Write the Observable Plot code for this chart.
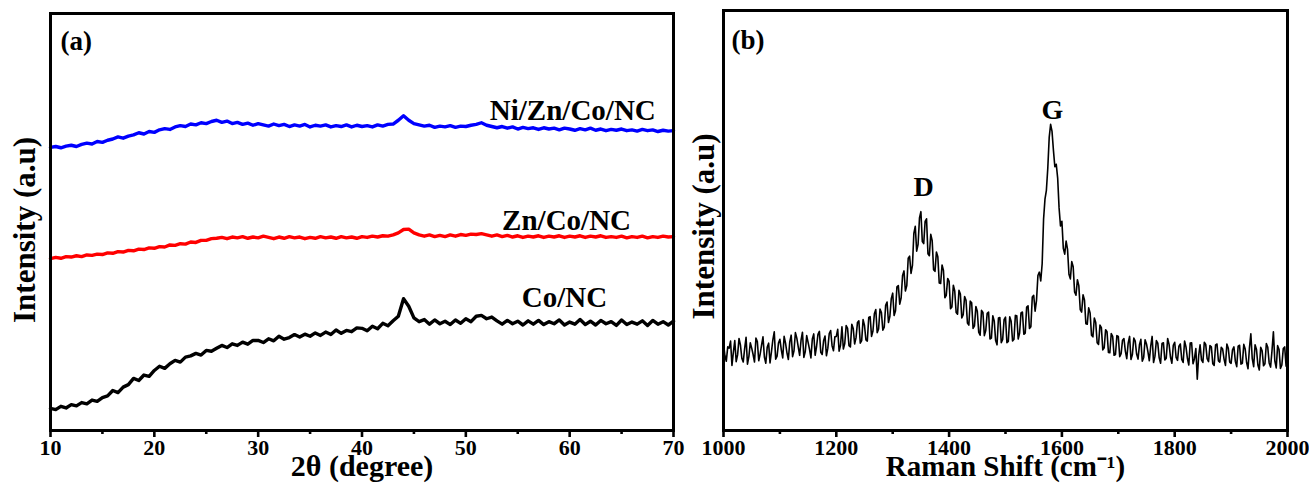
<!DOCTYPE html>
<html><head><meta charset="utf-8">
<script src="https://cdn.jsdelivr.net/npm/d3@7"></script>
<script src="https://cdn.jsdelivr.net/npm/@observablehq/plot@0.6"></script>
<style>
html,body{margin:0;padding:0;background:#fff;}
#wrap{position:relative;width:1309px;height:486px;overflow:hidden;background:#fff;}
#a{position:absolute;left:0;top:0;}
#b{position:absolute;left:685px;top:0;}
svg text{font-family:"Liberation Serif","Times New Roman",serif !important;font-weight:bold;}
</style></head><body><div id="wrap"><div id="a"></div><div id="b"></div></div>
<script>
// ---------- (a) XRD ----------
const xrdAngle = [
10,10.5,11,11.5,12,12.5,13,13.5,14,14.5,
15,15.5,16,16.5,17,17.5,18,18.5,19,19.5,
20,20.5,21,21.5,22,22.5,23,23.5,24,24.5,
25,25.5,26,26.5,27,27.5,28,28.5,29,29.5,
30,30.5,31,31.5,32,32.5,33,33.5,34,34.5,
35,35.5,36,36.5,37,37.5,38,38.5,39,39.5,
40,40.5,41,41.5,42,42.5,43,43.5,44,44.5,
45,45.5,46,46.5,47,47.5,48,48.5,49,49.5,
50,50.5,51,51.5,52,52.5,53,53.5,54,54.5,
55,55.5,56,56.5,57,57.5,58,58.5,59,59.5,
60,60.5,61,61.5,62,62.5,63,63.5,64,64.5,
65,65.5,66,66.5,67,67.5,68,68.5,69,69.5,
70];
const niZnCoNC = [
67.9,68.1,67.8,68.2,68.4,68.1,68.6,68.9,68.7,69.3,
69.1,69.6,69.9,70.4,70.1,70.6,70.9,71.4,71.1,71.7,
71.5,72.1,72.4,72.2,72.8,73.1,72.9,73.5,73.3,73.8,
73.6,74.1,74.4,73.9,74.2,73.6,73.9,73.4,73.7,73.2,
73.6,73.3,73.0,73.5,73.1,73.4,72.9,73.3,73.0,73.4,
72.8,73.2,73.0,73.3,72.8,73.1,72.9,73.3,72.8,73.2,
72.9,73.1,72.8,73.3,73.0,73.4,73.5,74.4,75.5,74.4,
73.6,73.3,73.0,73.2,72.7,73.0,72.8,73.1,72.7,73.0,
72.9,73.2,73.4,73.8,73.2,72.9,72.6,72.9,72.5,72.8,
72.3,72.7,72.4,72.6,72.2,72.6,72.3,72.5,72.1,72.5,
72.3,72.0,72.4,72.1,72.5,72.0,72.3,71.9,72.2,72.0,
72.3,71.9,72.1,71.8,72.2,71.9,72.1,71.7,72.0,71.8,
71.9];
const znCoNC = [
41.2,41.5,41.3,41.7,41.6,41.9,41.7,42.1,42.0,42.3,
42.2,42.6,42.5,42.9,42.8,43.2,43.1,43.5,43.4,43.8,
43.7,44.1,44.0,44.5,44.4,44.8,44.7,45.2,45.1,45.6,
45.6,46.0,46.1,46.3,46.0,46.4,46.2,46.5,46.1,46.4,
46.2,46.6,46.3,46.0,46.4,46.1,46.5,46.2,46.4,46.0,
46.3,46.1,46.5,46.2,46.4,46.1,46.5,46.2,46.4,46.1,
46.5,46.3,46.6,46.4,46.7,46.6,46.9,47.4,48.2,48.3,
47.4,46.9,46.6,46.9,46.5,46.8,46.5,46.9,46.6,47.0,
46.8,47.1,47.0,47.2,46.9,46.6,46.9,46.5,46.8,46.4,
46.7,46.3,46.6,46.4,46.7,46.3,46.6,46.4,46.7,46.3,
46.6,46.4,46.7,46.3,46.6,46.4,46.7,46.3,46.5,46.3,
46.6,46.2,46.5,46.3,46.6,46.2,46.5,46.3,46.6,46.4,
46.5];
const coNC = [
5.3,5.0,5.8,5.4,6.2,5.9,6.7,6.4,7.3,7.0,
7.9,8.3,9.6,9.1,10.4,11.0,12.5,12.0,13.3,13.0,
14.4,15.4,14.9,16.0,16.8,16.4,17.6,17.9,18.5,18.1,
19.2,19.0,19.7,20.4,19.9,20.8,20.4,21.2,20.7,21.6,
21.6,21.1,22.0,21.5,22.6,21.9,22.3,23.0,22.4,23.1,
22.6,23.4,22.8,23.6,23.0,24.1,23.3,24.0,23.7,24.6,
24.5,23.9,25.0,24.4,25.7,25.1,26.3,27.4,31.6,29.8,
27.0,26.1,26.6,25.5,26.5,25.6,26.2,25.4,26.5,25.7,
26.8,26.1,27.4,27.6,26.8,27.2,26.3,25.5,26.4,25.6,
26.2,25.3,26.3,25.5,26.4,25.4,26.1,25.6,26.5,25.3,
26.0,25.5,26.6,25.4,26.2,25.3,26.4,25.6,26.1,25.2,
26.5,25.4,26.0,25.5,26.3,25.2,26.4,25.5,26.1,25.3,
26.2];
const xrdSamples = ["Ni/Zn/Co/NC", "Zn/Co/NC", "Co/NC"];
const xrdColors = ["#0000ff", "#ff0000", "#000000"];
const xrdLabelX = [60.3, 59.7, 59.5];
const xrdLabelY = [76.7, 50.4, 31.9];
const xrdTicks = [10, 20, 30, 40, 50, 60, 70];
const xrdMinorTicks = [15, 25, 35, 45, 55, 65];

// ---------- (b) Raman ----------
const ramanShift = [
1000,1002.5,1005,1007.5,1010,1012.5,1015,1017.5,1020,1022.5,1025,1027.5,1030,1032.5,1035,1037.5,1040,1042.5,1045,1047.5,
1050,1052.5,1055,1057.5,1060,1062.5,1065,1067.5,1070,1072.5,1075,1077.5,1080,1082.5,1085,1087.5,1090,1092.5,1095,1097.5,
1100,1102.5,1105,1107.5,1110,1112.5,1115,1117.5,1120,1122.5,1125,1127.5,1130,1132.5,1135,1137.5,1140,1142.5,1145,1147.5,
1150,1152.5,1155,1157.5,1160,1162.5,1165,1167.5,1170,1172.5,1175,1177.5,1180,1182.5,1185,1187.5,1190,1192.5,1195,1197.5,
1200,1202.5,1205,1207.5,1210,1212.5,1215,1217.5,1220,1222.5,1225,1227.5,1230,1232.5,1235,1237.5,1240,1242.5,1245,1247.5,
1250,1252.5,1255,1257.5,1260,1262.5,1265,1267.5,1270,1272.5,1275,1277.5,1280,1282.5,1285,1287.5,1290,1292.5,1295,1297.5,
1300,1302.5,1305,1307.5,1310,1312.5,1315,1317.5,1320,1322.5,1325,1327.5,1330,1332.5,1335,1337.5,1340,1342.5,1345,1347.5,
1350,1352.5,1355,1357.5,1360,1362.5,1365,1367.5,1370,1372.5,1375,1377.5,1380,1382.5,1385,1387.5,1390,1392.5,1395,1397.5,
1400,1402.5,1405,1407.5,1410,1412.5,1415,1417.5,1420,1422.5,1425,1427.5,1430,1432.5,1435,1437.5,1440,1442.5,1445,1447.5,
1450,1452.5,1455,1457.5,1460,1462.5,1465,1467.5,1470,1472.5,1475,1477.5,1480,1482.5,1485,1487.5,1490,1492.5,1495,1497.5,
1500,1502.5,1505,1507.5,1510,1512.5,1515,1517.5,1520,1522.5,1525,1527.5,1530,1532.5,1535,1537.5,1540,1542.5,1545,1547.5,
1550,1552.5,1555,1557.5,1560,1562.5,1565,1567.5,1570,1572.5,1575,1577.5,1580,1582.5,1585,1587.5,1590,1592.5,1595,1597.5,
1600,1602.5,1605,1607.5,1610,1612.5,1615,1617.5,1620,1622.5,1625,1627.5,1630,1632.5,1635,1637.5,1640,1642.5,1645,1647.5,
1650,1652.5,1655,1657.5,1660,1662.5,1665,1667.5,1670,1672.5,1675,1677.5,1680,1682.5,1685,1687.5,1690,1692.5,1695,1697.5,
1700,1702.5,1705,1707.5,1710,1712.5,1715,1717.5,1720,1722.5,1725,1727.5,1730,1732.5,1735,1737.5,1740,1742.5,1745,1747.5,
1750,1752.5,1755,1757.5,1760,1762.5,1765,1767.5,1770,1772.5,1775,1777.5,1780,1782.5,1785,1787.5,1790,1792.5,1795,1797.5,
1800,1802.5,1805,1807.5,1810,1812.5,1815,1817.5,1820,1822.5,1825,1827.5,1830,1832.5,1835,1837.5,1840,1842.5,1845,1847.5,
1850,1852.5,1855,1857.5,1860,1862.5,1865,1867.5,1870,1872.5,1875,1877.5,1880,1882.5,1885,1887.5,1890,1892.5,1895,1897.5,
1900,1902.5,1905,1907.5,1910,1912.5,1915,1917.5,1920,1922.5,1925,1927.5,1930,1932.5,1935,1937.5,1940,1942.5,1945,1947.5,
1950,1952.5,1955,1957.5,1960,1962.5,1965,1967.5,1970,1972.5,1975,1977.5,1980,1982.5,1985,1987.5,1990,1992.5,1995,1997.5,
2000];
const ramanIntensity = [
20.7,17.8,16.5,19.9,19.6,21.3,15.5,18.6,21.4,16.4,18.0,21.9,20.4,17.2,16.3,19.5,22.2,15.8,17.6,20.9,
19.6,18.1,16.3,22.0,21.2,16.6,18.2,20.3,22.3,17.5,16.0,19.8,20.8,16.1,18.7,21.6,23.5,17.0,17.7,20.8,
21.7,19.2,17.3,22.4,20.8,18.5,16.9,21.1,22.7,17.6,19.0,23.3,22.0,19.9,17.9,21.5,23.4,17.4,18.8,22.6,
21.0,19.3,17.3,21.8,23.0,17.9,20.0,22.9,23.6,18.6,18.1,21.4,22.5,17.8,19.6,23.1,23.8,20.2,19.0,22.3,
22.4,24.1,18.9,20.3,24.7,19.4,20.7,25.0,24.3,20.2,19.9,25.3,24.3,20.6,22.1,25.7,26.1,20.8,21.4,26.4,
25.0,21.6,21.3,26.9,27.1,22.4,23.7,27.8,28.8,23.3,24.2,28.9,28.1,23.9,24.6,29.8,30.6,25.7,27.2,31.4,
32.7,27.4,28.5,34.2,34.5,30.1,31.6,36.9,38.0,33.2,34.5,41.0,41.5,37.4,39.3,46.9,48.6,42.7,44.3,50.6,
52.1,45.0,44.5,49.8,50.4,42.1,41.6,46.7,45.2,38.3,37.9,42.5,41.4,35.1,35.0,39.4,38.1,31.6,32.2,36.2,
35.5,29.0,29.4,34.6,33.2,28.1,27.7,33.4,32.5,26.8,27.6,31.9,31.0,25.6,25.1,30.8,30.4,24.3,24.9,29.5,
28.4,23.4,22.7,28.6,28.1,22.6,23.8,27.9,28.2,21.8,22.0,27.3,26.1,21.4,20.4,26.8,26.9,20.9,21.7,26.4,
27.0,20.9,21.2,27.1,26.0,21.3,21.7,27.4,27.3,21.8,23.2,28.0,28.2,22.9,23.2,29.4,29.7,24.3,24.7,31.8,
32.2,28.4,31.0,36.9,37.7,35.6,39.7,50.3,55.1,57.2,62.5,69.8,72.9,71.2,66.7,62.8,63.4,60.1,53.0,48.7,
49.8,43.4,42.0,45.1,43.1,37.2,36.1,40.2,39.0,33.0,32.2,35.9,34.5,28.8,28.2,32.3,31.1,25.4,25.3,29.2,
28.0,22.7,22.3,26.8,25.7,20.9,20.5,25.1,24.5,19.2,19.7,24.0,23.5,18.6,18.5,23.1,22.4,17.9,18.1,22.6,
22.4,17.6,18.3,21.5,21.9,18.9,17.1,20.8,22.4,16.9,18.1,22.0,21.3,18.2,17.0,20.4,21.7,16.5,17.4,21.6,
20.6,18.8,16.6,20.1,22.4,16.2,17.7,21.4,20.8,17.3,16.0,20.7,20.9,16.8,17.2,21.9,20.5,17.5,16.0,20.3,
21.0,17.4,16.7,20.1,20.6,16.9,16.2,21.3,19.9,17.2,15.6,20.8,20.9,15.9,17.1,19.5,12.2,17.8,20.4,16.8,
16.2,21.0,20.5,17.1,16.4,20.2,19.9,15.9,15.5,20.4,20.6,16.6,16.3,19.8,19.4,17.0,15.5,20.6,19.6,16.3,
16.0,19.2,19.9,16.5,15.2,20.1,20.3,15.8,16.0,20.5,19.4,16.2,14.7,19.6,23.0,17.1,15.2,20.4,19.3,15.6,
14.4,19.8,19.0,15.4,15.9,20.7,19.8,16.1,15.1,19.0,23.5,16.6,14.9,20.2,19.3,14.8,15.6,19.5,19.9,15.3,
16.9];
const ramanTicks = [1000, 1200, 1400, 1600, 1800, 2000];
const ramanMinorTicks = [1100, 1300, 1500, 1700, 1900];
const ramanPeaks = ["D", "G"];
const ramanPeakX = [1354.6, 1583.3];
const ramanPeakY = [57.9, 76.2];

const baseStyle = "font-family: 'Liberation Serif', 'Times New Roman', serif; font-weight: bold; font-size: 22px; background: white; color: black; overflow: visible;";

// build tables
const xrdSeries = [niZnCoNC, znCoNC, coNC];
const xrdRows = xrdSeries.flatMap((ys, k) => ys.map((v, i) => ({angle: xrdAngle[i], intensity: v, sample: xrdSamples[k]})));
const xrdText = xrdSamples.map((s, k) => ({label: s, x: xrdLabelX[k], y: xrdLabelY[k]}));
const ramanRows = ramanShift.map((s, i) => ({shift: s, intensity: ramanIntensity[i]}));
const peakText = ramanPeaks.map((p, k) => ({label: p, x: ramanPeakX[k], y: ramanPeakY[k]}));

const plotA = Plot.plot({
  width: 700, height: 486,
  marginLeft: 50, marginRight: 27, marginTop: 13, marginBottom: 56,
  style: baseStyle,
  x: {domain: [10, 70]},
  y: {domain: [0, 100], axis: null},
  color: {domain: xrdSamples, range: xrdColors},
  marks: [
    Plot.line(xrdRows, {x: "angle", y: "intensity", z: "sample", stroke: "sample", strokeWidth: 3.4}),
    Plot.text(xrdText, {x: "x", y: "y", text: "label", fontSize: 29, fill: "black"}),
    Plot.text(["(a)"], {x: [10.96], y: [93.3], textAnchor: "start", fontSize: 27, fill: "black"}),
    Plot.axisX({ticks: xrdTicks, tickSize: 7, tickPadding: 2, strokeWidth: 2.6, fontSize: 22, tickFormat: d => String(d), label: null}),
    Plot.axisX({ticks: xrdMinorTicks, tickSize: 4, strokeWidth: 2.6, tickFormat: () => "", label: null}),
    Plot.text(["2θ (degree)"], {frameAnchor: "bottom", dy: 45, fontSize: 30, fill: "black"}),
    Plot.text(["Intensity (a.u)"], {frameAnchor: "left", textAnchor: "middle", dx: -25, dy: 8, rotate: -90, fontSize: 31, fill: "black"}),
    Plot.frame({stroke: "black", strokeWidth: 3})
  ]
});
document.getElementById("a").appendChild(plotA);

const plotB = Plot.plot({
  width: 624, height: 486,
  marginLeft: 38, marginRight: 22, marginTop: 10, marginBottom: 56,
  style: baseStyle,
  x: {domain: [1000, 2000]},
  y: {domain: [0, 100], axis: null},
  marks: [
    Plot.line(ramanRows, {x: "shift", y: "intensity", stroke: "black", strokeWidth: 1.6}),
    Plot.text(peakText, {x: "x", y: "y", text: "label", fontSize: 28, fill: "black"}),
    Plot.text(["(b)"], {x: [1014.2], y: [92.9], textAnchor: "start", fontSize: 27, fill: "black"}),
    Plot.axisX({ticks: ramanTicks, tickSize: 7, tickPadding: 2, strokeWidth: 2.6, fontSize: 22, tickFormat: d => String(d), label: null}),
    Plot.axisX({ticks: ramanMinorTicks, tickSize: 4, strokeWidth: 2.6, tickFormat: () => "", label: null}),
    Plot.text(["Raman Shift (cm⁻¹)"], {frameAnchor: "bottom", dy: 45, fontSize: 29, fill: "black"}),
    Plot.text(["Intensity (a.u)"], {frameAnchor: "left", textAnchor: "middle", dx: -19, dy: 6, rotate: -90, fontSize: 31, fill: "black"}),
    Plot.frame({stroke: "black", strokeWidth: 3})
  ]
});
document.getElementById("b").appendChild(plotB);
</script></body></html>
